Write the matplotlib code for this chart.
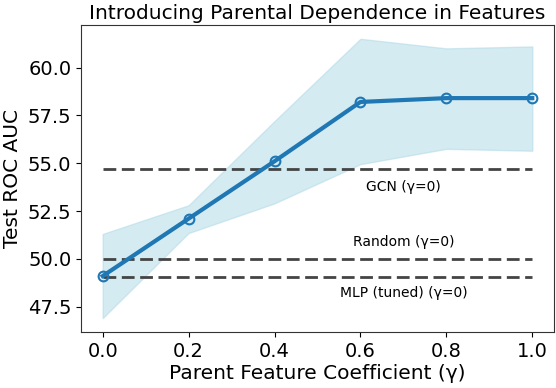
import matplotlib
matplotlib.use("Agg")
import matplotlib.pyplot as plt

gamma = [0.0, 0.2, 0.4, 0.6, 0.8, 1.0]
mean_auc = [49.1, 52.1, 55.1, 58.2, 58.4, 58.4]
upper_auc = [51.3, 52.8, 57.2, 61.5, 61.0, 61.1]
lower_auc = [46.9, 51.35, 52.9, 54.95, 55.75, 55.65]

baseline_names = ["GCN (γ=0)", "Random (γ=0)", "MLP (tuned) (γ=0)"]
baseline_values = [54.7, 50.0, 49.07]
label_y = [53.75, 50.9, 48.2]

fig = plt.figure(figsize=(5.56, 3.88), dpi=100)
ax = fig.add_axes([0.146, 0.144, 0.85, 0.792])

ax.fill_between(gamma, lower_auc, upper_auc, color="lightblue", alpha=0.5)
ax.plot(gamma, mean_auc, color="#1f77b4", lw=3, marker="o", markersize=7,
        markerfacecolor="none", markeredgewidth=1.5, zorder=3)

for name, val, ly in zip(baseline_names, baseline_values, label_y):
    ax.plot([gamma[0], gamma[-1]], [val, val], ls="--", dashes=(4.6, 2.0),
            color="#444444", lw=2, zorder=2)
    ax.text(0.7, ly, name, ha="center", va="center", fontsize=10)

ax.set_xticks([0.0, 0.2, 0.4, 0.6, 0.8, 1.0])
ax.set_yticks([47.5, 50.0, 52.5, 55.0, 57.5, 60.0])
ax.tick_params(labelsize=14)
ax.set_xlabel("Parent Feature Coefficient (γ)", fontsize=14.5, labelpad=2)
ax.set_ylabel("Test ROC AUC", fontsize=14.5, labelpad=4)
ax.set_title("Introducing Parental Dependence in Features", fontsize=14.5, pad=4)
for s in ax.spines.values():
    s.set_color("#333333")

fig.savefig("out.png", dpi=100)
